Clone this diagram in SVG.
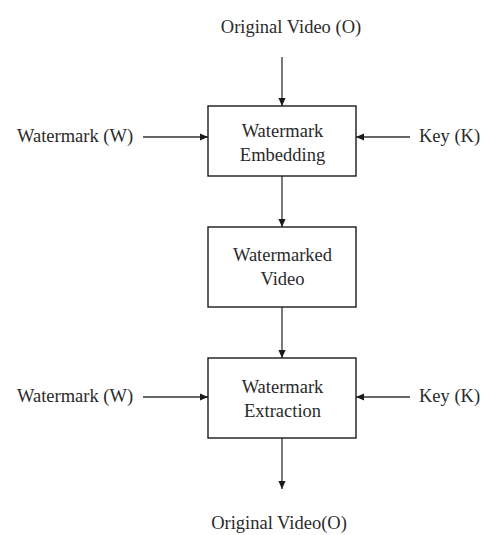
<svg xmlns="http://www.w3.org/2000/svg" width="487" height="535" viewBox="0 0 487 535">
<defs>
<marker id="ah" viewBox="0 0 10 10" refX="10" refY="5" markerWidth="8" markerHeight="8" markerUnits="userSpaceOnUse" orient="auto">
<path d="M0,0.5 L10,5 L0,9.5 Z" fill="#1a1a1a"/>
</marker>
<style>
text{font-family:"Liberation Serif","Times New Roman",serif;font-size:18.5px;fill:#2a2a2a;}
.c{text-anchor:middle;}
.box{fill:#fff;stroke:#1a1a1a;stroke-width:1.4;}
.ln{stroke:#333;stroke-width:1.3;fill:none;marker-end:url(#ah);}
</style>
</defs>
<rect width="487" height="535" fill="#fff"/>
<g id="connectors">
<line class="ln" x1="282" y1="57" x2="282" y2="106"/>
<line class="ln" x1="143" y1="137" x2="208" y2="137"/>
<line class="ln" x1="410" y1="137" x2="356" y2="137"/>
<line class="ln" x1="282" y1="176" x2="282" y2="227"/>
<line class="ln" x1="282" y1="307" x2="282" y2="358"/>
<line class="ln" x1="143" y1="397" x2="208" y2="397"/>
<line class="ln" x1="410" y1="397" x2="356" y2="397"/>
<line class="ln" x1="282" y1="438" x2="282" y2="489"/>
</g>
<g id="original-video-in"><text class="c" x="291" y="32.5">Original Video (O)</text></g>
<g id="watermark-in-1"><text x="17" y="141.5">Watermark (W)</text></g>
<g id="key-in-1"><text x="419" y="141.5">Key (K)</text></g>
<g id="embedding">
<rect class="box" x="208" y="106" width="148" height="70"/>
<text class="c" x="282.5" y="136.5">Watermark</text>
<text class="c" x="282.5" y="160.5">Embedding</text>
</g>
<g id="watermarked-video">
<rect class="box" x="208" y="227" width="148" height="80"/>
<text class="c" x="282.5" y="261">Watermarked</text>
<text class="c" x="282.5" y="285">Video</text>
</g>
<g id="watermark-in-2"><text x="17" y="401.5">Watermark (W)</text></g>
<g id="key-in-2"><text x="419" y="401.5">Key (K)</text></g>
<g id="extraction">
<rect class="box" x="208" y="358" width="148" height="80"/>
<text class="c" x="282.5" y="393">Watermark</text>
<text class="c" x="282.5" y="417">Extraction</text>
</g>
<g id="original-video-out"><text class="c" x="279" y="529">Original Video(O)</text></g>
</svg>
